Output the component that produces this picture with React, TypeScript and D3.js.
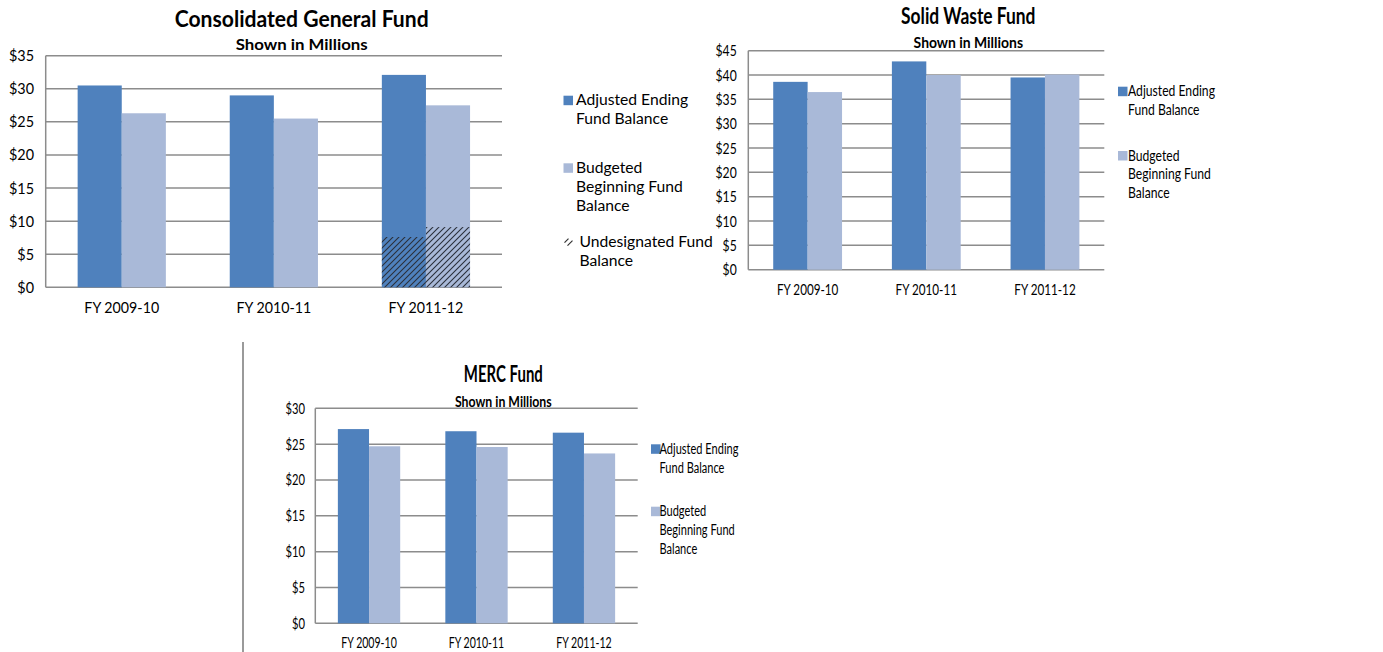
import { useEffect, useRef } from 'react';
import * as d3 from 'd3';

const years = ['FY 2009-10', 'FY 2010-11', 'FY 2011-12'];

const generalAdjusted = [30.5, 29.0, 32.1];
const generalBudgeted = [26.3, 25.5, 27.5];
const generalUndesignatedAdjusted = [0, 0, 7.6];
const generalUndesignatedBudgeted = [0, 0, 9.1];

const wasteAdjusted = [38.6, 42.8, 39.5];
const wasteBudgeted = [36.5, 40.0, 40.1];

const mercAdjusted = [27.1, 26.8, 26.6];
const mercBudgeted = [24.7, 24.6, 23.7];

const legendAdjusted = ['Adjusted Ending', 'Fund Balance'];
const legendBudgeted = ['Budgeted', 'Beginning Fund', 'Balance'];
const legendUndesignated = ['Undesignated Fund', 'Balance'];

const DARK = '#4f81bd';
const LIGHT = '#a9b9d8';
const GRID = '#8c8c8c';
const FONT = 'Lato, "Open Sans", sans-serif';

type ChartCfg = {
  title: string;
  left: number; right: number; top: number; bottom: number;
  max: number;
  adjusted: number[];
  budgeted: number[];
  hatchAdjusted?: number[];
  hatchBudgeted?: number[];
  titleX: number; titleY: number; subY: number;
  tickRight: number; xLabelY: number;
  legendSqX: number; legendTextX: number; legendTops: number[]; lineH: number;
  sx: number; labelSx: number; titleSx: number; subSx: number; legendSx: number;
};

const charts: ChartCfg[] = [
  {
    title: 'Consolidated General Fund',
    left: 45.7, right: 502, top: 55.7, bottom: 287.3, max: 35,
    adjusted: generalAdjusted, budgeted: generalBudgeted,
    hatchAdjusted: generalUndesignatedAdjusted, hatchBudgeted: generalUndesignatedBudgeted,
    titleX: 301.7, titleY: 26.7, subY: 50,
    tickRight: 34, xLabelY: 313,
    legendSqX: 563.5, legendTextX: 576, legendTops: [95.7, 163.3, 236.7], lineH: 19.2,
    sx: 0.9, labelSx: 0.89, titleSx: 0.96, subSx: 1.05, legendSx: 0.98,
  },
  {
    title: 'Solid Waste Fund',
    left: 748.3, right: 1104.3, top: 50.7, bottom: 269.7, max: 45,
    adjusted: wasteAdjusted, budgeted: wasteBudgeted,
    titleX: 968.3, titleY: 24, subY: 48.3,
    tickRight: 736.7, xLabelY: 295,
    legendSqX: 1118, legendTextX: 1128, legendTops: [86.7, 151], lineH: 18.6,
    sx: 0.76, labelSx: 0.73, titleSx: 0.79, subSx: 0.87, legendSx: 0.76,
  },
  {
    title: 'MERC Fund',
    left: 315.3, right: 637.7, top: 408.3, bottom: 623.3, max: 30,
    adjusted: mercAdjusted, budgeted: mercBudgeted,
    titleX: 503.3, titleY: 381.7, subY: 406.7,
    tickRight: 305, xLabelY: 648,
    legendSqX: 651, legendTextX: 659.5, legendTops: [444.3, 506.7], lineH: 18.8,
    sx: 0.7, labelSx: 0.66, titleSx: 0.68, subSx: 0.77, legendSx: 0.69,
  },
];

function addText(g: any, x: number, y: number, str: string, size: number, sx: number, anchor = 'start', weight = 'normal') {
  g.append('text')
    .attr('transform', `translate(${x},${y}) scale(${sx},1)`)
    .attr('text-anchor', anchor)
    .attr('font-family', FONT)
    .attr('font-size', size)
    .attr('font-weight', weight)
    .attr('fill', '#000')
    .text(str);
}

function drawChart(svg: any, c: ChartCfg) {
  const g = svg.append('g');
  const y = d3.scaleLinear().domain([0, c.max]).range([c.bottom, c.top]);
  const x0 = d3.scaleBand().domain(years).range([c.left, c.right]).paddingInner(0.42).paddingOuter(0.21);
  const x1 = d3.scaleBand().domain(['adj', 'bud']).range([0, x0.bandwidth()]);

  const ticks = d3.range(0, c.max + 1, 5);
  g.selectAll('line.grid').data(ticks).join('line')
    .attr('x1', c.left).attr('x2', c.right)
    .attr('y1', (d: number) => y(d)).attr('y2', (d: number) => y(d))
    .attr('stroke', GRID).attr('stroke-width', 1.5);
  g.append('line')
    .attr('x1', c.left).attr('x2', c.left).attr('y1', c.top).attr('y2', c.bottom)
    .attr('stroke', GRID).attr('stroke-width', 1.5);

  ticks.forEach((t) => addText(g, c.tickRight, y(t) + 5.5, `$${t}`, 16, c.sx, 'end'));

  const series = [
    { key: 'adj', values: c.adjusted, color: DARK, hatch: c.hatchAdjusted },
    { key: 'bud', values: c.budgeted, color: LIGHT, hatch: c.hatchBudgeted },
  ];
  series.forEach((s) => {
    g.selectAll(null).data(s.values).join('rect')
      .attr('x', (_: number, i: number) => (x0(years[i]) as number) + (x1(s.key) as number))
      .attr('width', x1.bandwidth())
      .attr('y', (d: number) => y(d))
      .attr('height', (d: number) => c.bottom - y(d))
      .attr('fill', s.color);
    if (s.hatch) {
      g.selectAll(null).data(s.hatch).join('rect')
        .attr('x', (_: number, i: number) => (x0(years[i]) as number) + (x1(s.key) as number))
        .attr('width', x1.bandwidth())
        .attr('y', (d: number) => y(d))
        .attr('height', (d: number) => c.bottom - y(d))
        .attr('fill', 'url(#hatch)');
    }
  });

  years.forEach((yr) => addText(g, (x0(yr) as number) + x0.bandwidth() / 2, c.xLabelY, yr, 16, c.labelSx, 'middle'));

  addText(g, c.titleX, c.titleY, c.title, 22, c.titleSx, 'middle', 'bold');
  addText(g, c.titleX, c.subY, 'Shown in Millions', 16, c.subSx, 'middle', 'bold');

  const entries = [
    { lines: legendAdjusted, color: DARK },
    { lines: legendBudgeted, color: LIGHT },
    { lines: legendUndesignated, color: 'hatch' },
  ].slice(0, c.legendTops.length);
  entries.forEach((e, i) => {
    const top = c.legendTops[i];
    if (e.color === 'hatch') {
      g.append('path')
        .attr('d', `M${c.legendSqX + 1},${top + 6} l4,-4 M${c.legendSqX + 4},${top + 9} l5,-5`)
        .attr('stroke', '#333').attr('stroke-width', 1.2);
      e.lines.forEach((l, k) => addText(g, c.legendTextX + 3.5, top + 10 + k * c.lineH, l, 16, c.legendSx));
    } else {
      g.append('rect').attr('x', c.legendSqX).attr('y', top).attr('width', 9.5).attr('height', 9.5).attr('fill', e.color);
      e.lines.forEach((l, k) => addText(g, c.legendTextX, top + 9.5 + k * c.lineH, l, 16, c.legendSx));
    }
  });
}

export default function App() {
  const svgRef = useRef<SVGSVGElement>(null);

  useEffect(() => {
    if (!svgRef.current) return;
    const svg = d3.select(svgRef.current);
    svg.selectAll('*').remove();

    const defs = svg.append('defs');
    const pat = defs.append('pattern')
      .attr('id', 'hatch')
      .attr('patternUnits', 'userSpaceOnUse')
      .attr('width', 6).attr('height', 6);
    pat.append('path')
      .attr('d', 'M-1,1 l2,-2 M0,6 l6,-6 M5,7 l2,-2')
      .attr('stroke', '#2a2f3a').attr('stroke-width', 1.1);

    charts.forEach((c) => drawChart(svg, c));

    // divider line on the left of the lower chart
    svg.append('line')
      .attr('x1', 243).attr('x2', 243).attr('y1', 342).attr('y2', 652)
      .attr('stroke', '#9a9a9a').attr('stroke-width', 2);
  }, []);

  return (
    <svg
      ref={svgRef}
      width={1383}
      height={652}
      style={{ position: 'absolute', left: 0, top: 0, background: '#fff' }}
    />
  );
}
